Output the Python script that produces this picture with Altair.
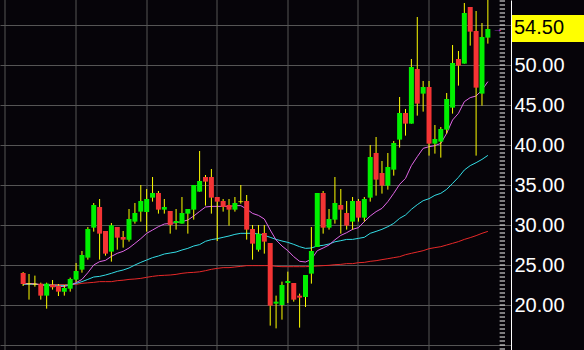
import altair as alt
import pandas as pd

# ---- data (80 candles) ----
idx = list(range(80))
opens = [24.0, 22.67, 22.6, 22.67, 21.17, 22.54, 22.42, 21.67, 22.04, 23.17,
         24.42, 25.92, 29.67, 32.25, 29.25, 26.67, 29.75, 28.5, 28.17, 30.42,
         31.67, 31.625, 33.42, 34.0, 31.92, 31.75, 30.25, 30.17, 31.42, 31.92,
         34.17, 36.0, 36.0, 33.5, 33.0, 32.5, 31.92, 32.92, 33.0, 29.5,
         26.92, 29.0, 27.75, 20.17, 20.0, 22.75, 22.75, 21.17, 21.0, 23.92,
         27.25, 34.0, 29.67, 30.67, 32.5, 31.5, 30.42, 33.0, 30.92, 33.42,
         39.0, 36.5, 34.92, 36.92, 40.67, 44.0, 42.67, 49.5, 46.42, 47.25,
         40.17, 40.42, 41.92, 44.67, 50.75, 50.17, 57.25, 54.25, 46.42, 53.42]
highs = [24.125, 23.875, 23.67, 22.79, 22.79, 23.125, 22.625, 22.5, 23.42, 25.25,
         26.75, 29.75, 32.75, 33.25, 29.25, 30.25, 29.75, 29.25, 32.0, 32.75,
         35.0, 34.5, 36.0, 34.25, 33.25, 31.75, 32.0, 33.5, 32.0, 35.0,
         39.25, 36.25, 37.0, 33.5, 33.25, 33.25, 33.5, 35.0, 33.75, 30.0,
         30.0, 30.0, 27.75, 21.17, 22.92, 24.17, 22.75, 21.42, 23.75, 29.75,
         34.0, 34.25, 32.0, 36.0, 34.5, 33.0, 33.5, 33.25, 33.5, 40.0,
         41.0, 38.0, 39.0, 40.5, 46.0, 44.5, 50.75, 56.0, 48.0, 48.0,
         42.5, 42.25, 46.5, 52.5, 51.75, 57.75, 57.25, 56.75, 55.25, 58.5]
lows = [22.375, 20.67, 22.29, 20.67, 19.54, 21.92, 21.125, 21.17, 21.67, 22.875,
        24.04, 25.67, 29.17, 25.67, 26.17, 25.42, 26.92, 27.17, 27.92, 30.17,
        30.42, 29.17, 32.92, 31.42, 31.42, 28.92, 29.42, 30.17, 28.92, 30.67,
        34.17, 32.42, 31.42, 28.0, 31.67, 29.92, 31.67, 32.67, 28.17, 25.67,
        26.67, 26.42, 17.42, 17.08, 18.17, 20.25, 20.42, 17.17, 19.75, 22.67,
        27.25, 28.92, 29.42, 30.17, 28.92, 29.42, 29.42, 30.42, 30.42, 32.92,
        33.67, 33.92, 34.42, 36.17, 39.67, 41.17, 42.67, 43.67, 44.17, 38.67,
        38.92, 38.42, 41.42, 43.92, 47.42, 50.17, 52.42, 38.67, 44.92, 52.67]
closes = [22.625, 22.67, 22.6, 21.17, 22.67, 22.21, 21.67, 22.125, 23.25, 24.25,
          26.25, 29.5, 32.5, 28.92, 26.42, 29.96, 28.42, 28.17, 30.75, 31.5,
          33.0, 33.25, 34.0, 31.92, 32.25, 30.0, 30.5, 31.5, 32.0, 35.0,
          35.5, 35.42, 33.42, 32.92, 32.25, 31.92, 32.75, 32.92, 29.42, 27.67,
          28.92, 27.92, 19.92, 20.42, 22.5, 23.0, 20.67, 20.92, 23.75, 26.75,
          34.0, 29.67, 30.75, 32.75, 31.92, 29.92, 33.0, 30.92, 33.25, 38.5,
          35.67, 34.92, 37.25, 40.25, 44.0, 42.67, 49.75, 45.17, 47.25, 40.17,
          40.75, 42.0, 45.75, 50.25, 49.92, 56.5, 54.17, 47.17, 53.5, 54.5]
ma_fast = [22.67, 22.67, 22.67, 22.5, 22.42, 22.42, 22.29, 22.33, 22.5, 22.79,
           23.2, 24.04, 25.0, 25.42, 25.58, 26.08, 26.46, 26.71, 27.125, 27.7,
           28.29, 28.96, 29.375, 29.79, 30.125, 30.2, 30.29, 30.42, 30.625, 31.125,
           31.7, 32.25, 32.33, 32.33, 32.33, 32.33, 32.42, 32.42, 32.0, 31.45,
           31.2, 30.75, 29.375, 28.125, 27.375, 26.79, 26.04, 25.46, 25.375, 25.71,
           26.79, 27.125, 27.5, 28.15, 28.7, 29.04, 29.46, 29.67, 30.42, 31.125,
           31.67, 32.08, 32.92, 33.96, 35.08, 35.83, 37.42, 38.54, 39.58, 39.79,
           39.92, 40.2, 41.46, 43.125, 43.96, 45.42, 45.92, 46.125, 46.875, 47.92]
ma_mid = [22.6, 22.6, 22.6, 22.55, 22.5, 22.5, 22.45, 22.45, 22.5, 22.7,
          22.92, 23.2, 23.5, 23.58, 23.75, 23.96, 24.2, 24.375, 24.625, 25.0,
          25.33, 25.625, 25.92, 26.125, 26.375, 26.5, 26.625, 26.875, 27.08, 27.375,
          27.55, 27.96, 28.17, 28.29, 28.46, 28.625, 28.83, 28.96, 28.96, 28.96,
          28.875, 28.71, 28.46, 28.2, 28.0, 27.83, 27.58, 27.29, 27.08, 27.125,
          27.375, 27.46, 27.625, 27.9, 28.04, 28.2, 28.2, 28.33, 28.46, 28.96,
          29.2, 29.46, 29.79, 30.2, 30.83, 31.25, 31.96, 32.54, 33.04, 33.29,
          33.71, 33.96, 34.46, 35.2, 35.96, 36.875, 37.42, 37.79, 38.2, 38.7]
ma_slow = [22.6, 22.6, 22.58, 22.56, 22.55, 22.55, 22.55, 22.55, 22.56, 22.58,
           22.71, 22.77, 22.83, 22.92, 22.92, 22.92, 23.04, 23.1, 23.2, 23.25,
           23.33, 23.46, 23.58, 23.67, 23.71, 23.75, 23.83, 23.96, 24.04, 24.08,
           24.15, 24.29, 24.46, 24.58, 24.67, 24.67, 24.75, 24.83, 24.92, 24.92,
           24.92, 24.92, 24.92, 24.83, 24.79, 24.79, 24.79, 24.79, 24.79, 24.83,
           24.88, 24.92, 24.96, 25.04, 25.08, 25.17, 25.17, 25.29, 25.33, 25.46,
           25.54, 25.67, 25.79, 25.92, 26.04, 26.29, 26.46, 26.625, 26.79, 27.04,
           27.17, 27.29, 27.5, 27.71, 27.92, 28.2, 28.42, 28.67, 28.96, 29.2]

grid_y = [15, 20, 25, 30, 35, 40, 45, 50, 55]
grid_x = [-3, 9, 21, 33, 45, 57, 69]
minor_ticks = [14.5 + 0.5 * k for k in range(88)]
last_label = "54.50"

# ---- styling ----
BG = "#060409"
GRID = "#555555"
UP = "#00f000"
DOWN = "#f43434"
WICK = "#ffff00"

df = pd.DataFrame(dict(i=idx, open=opens, high=highs, low=lows, close=closes,
                       fast=ma_fast, mid=ma_mid, slow=ma_slow))

xscale = alt.Scale(domain=[-3.0833, 82.0833], nice=False, zero=False)
yscale = alt.Scale(domain=[14.375, 58.125], nice=False, zero=False)

x_axis = alt.Axis(values=grid_x, grid=True, gridColor=GRID, gridWidth=1,
                  labels=False, ticks=False, domain=False, title=None, translate=0)
y_axis = alt.Axis(orient="right", values=grid_y, grid=True, gridColor=GRID, gridWidth=1,
                  ticks=False, domain=True, domainColor="white", domainWidth=1,
                  labelColor="white", labelFont="Liberation Sans", labelFontSize=20,
                  labelPadding=3, labelOverlap=False,
                  labelExpr="datum.value >= 20 && datum.value <= 50 ? format(datum.value, '.2f') : ''",
                  title=None)


def X(field="i"):
    return alt.X(f"{field}:Q", scale=xscale, axis=x_axis, title=None)


def Y(field):
    return alt.Y(f"{field}:Q", scale=yscale, axis=y_axis, title=None)


base = alt.Chart(df)

wicks = base.mark_rule(color=WICK, strokeWidth=1, clip=True).encode(
    x=X(), y=Y("low"), y2="high:Q")


def ma_line(field, color):
    return base.mark_line(color=color, strokeWidth=1, clip=True).encode(x=X(), y=Y(field))


slow_line = ma_line("slow", "#e62828")
mid_line = ma_line("mid", "#33dde6")
fast_line = ma_line("fast", "#e066e6")

bodies = base.transform_filter("datum.close != datum.open").mark_bar(size=5, clip=True).encode(
    x=X(), y=Y("open"), y2="close:Q",
    color=alt.condition("datum.close > datum.open", alt.value(UP), alt.value(DOWN)),
)

doji = base.transform_filter("datum.close == datum.open").mark_tick(
    orient="horizontal", size=5, thickness=1, color=WICK).encode(x=X(), y=Y("close"))

# short inward ticks along the price axis (every 0.5)
tick_df = pd.DataFrame({"tv": minor_ticks})
ticks = alt.Chart(tick_df).transform_calculate(
    ta="81.0", tb="81.92", tlo="datum.tv - 0.06", thi="datum.tv + 0.06"
).mark_rect(color="#ffffff").encode(
    x=X("ta"), x2="tb:Q", y=Y("tlo"), y2="thi:Q")

last_df = pd.DataFrame({"i": [idx[-1]], "c": [closes[-1]], "t": [last_label]})

box = alt.Chart(last_df).transform_calculate(
    top="datum.c + 1.75", bot="datum.c - 1.63").mark_rect(color="#ffff00").encode(
    x=alt.value(512), x2=alt.value(584), y=Y("top"), y2="bot:Q")

box_text = alt.Chart(last_df).mark_text(
    align="left", baseline="middle", font="Liberation Sans", fontSize=20, color="black",
    dy=-1).encode(x=alt.value(514), y=Y("c"), text="t:N")

arrow = alt.Chart(last_df).mark_text(
    text="→", color="#ee55ee", fontSize=10, dx=10, align="center", baseline="middle").encode(
    x=X(), y=Y("c"))

chart = alt.layer(
    slow_line, mid_line, fast_line, wicks, bodies, doji, ticks, box, box_text, arrow
).properties(
    width=511, height=350,
    padding={"left": 0, "top": 0, "right": 73, "bottom": 0},
    autosize="none",
    background=BG,
).configure_view(strokeWidth=0, fill=BG)

chart.save("out.html", embed_options={"renderer": "svg", "actions": False})
